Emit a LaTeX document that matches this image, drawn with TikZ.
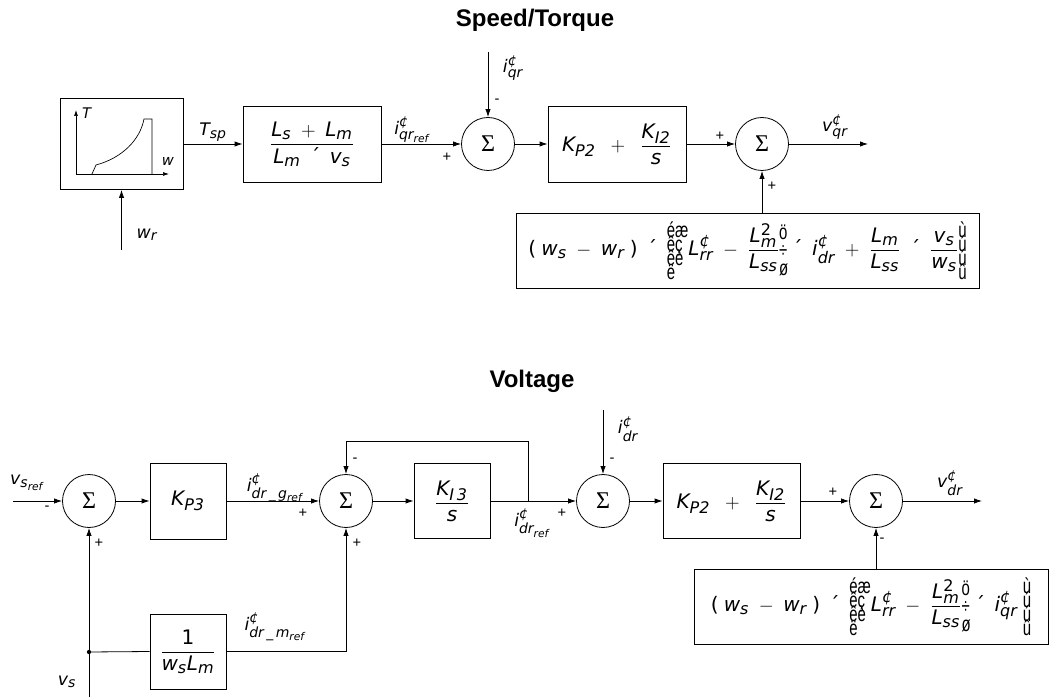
\documentclass[tikz,border=0pt]{standalone}
\usepackage{amsmath}
\usepackage{graphicx}
\usepackage{fontspec}
\setmainfont{DejaVu Sans}
\newfontfamily\arialfont{Liberation Sans}
\newfontfamily\timesfont{Liberation Serif}
\usetikzlibrary{arrows.meta}

\DeclareMathSizes{15}{15}{12}{9.5}
\DeclareMathSizes{13}{13}{10.5}{8}

% glyphs as the figure prints them
\newcommand{\cnt}{\text{\itshape ¢}}
\newcommand{\pq}[2]{\mathit{#1}^{\cnt}_{\mathit{#2}}}
\newcommand{\tms}{\mathbin{\text{´}}}
\newcommand{\gl}[1]{\hbox{\scalebox{0.7}[1]{#1}}}
\newcommand{\glyphs}[2]{\vcenter{\arialfont\fontsize{16}{#1}\selectfont\baselineskip=#1\lineskiplimit=-20pt\lineskip=0pt #2}}
\newcommand{\lbr}{\glyphs{10.5pt}{\gl{éæ}\gl{êç}\gl{êè}\gl{ë}}}
\newcommand{\mbr}{\glyphs{13.5pt}{\gl{ö}\gl{÷}\gl{ø}}}
\newcommand{\rbr}{\glyphs{10.5pt}{\gl{ù}\gl{ú}\gl{ú}\gl{û}}}

\begin{document}
\begin{tikzpicture}[x=0.75pt, y=-0.75pt, >={Latex[length=6pt,width=4pt]}, line width=0.6pt,
	blk/.style={draw, inner sep=0pt, font=\fontsize{15}{18}\selectfont},
	sum/.style={draw, circle, minimum size=39.75pt, inner sep=0pt, font=\timesfont\fontsize{18}{20}\selectfont},
	lbl/.style={inner sep=0pt, font=\fontsize{13}{15}\selectfont},
	sgn/.style={inner sep=0pt, font=\arialfont\fontsize{11}{12}\selectfont},
	ttl/.style={inner sep=0pt, font=\arialfont\fontsize{18}{20}\selectfont\bfseries}]
	
	\useasboundingbox (0,0) rectangle (1049,698);
	
	% titles
	\node[ttl] (t1) at (535,20) {Speed/Torque};
	\node[ttl] (t2) at (532,381) {Voltage};
	
	% speed/torque blocks
	\node[blk, minimum width=92.25pt, minimum height=68.25pt] (tq) at (121.5,144) {};
	\node[blk, minimum width=103.5pt, minimum height=57pt] (k1) at (312,144)
		{$\dfrac{\mathit{L_s}\;+\;\mathit{L_m}}{\mathit{L_m}\;\tms\;\mathit{v_s}}$};
	\node[sum] (s1) at (488,144) {Σ};
	\node[blk, minimum width=103.5pt, minimum height=57pt] (pi1) at (617,144)
		{$\mathit{K_{P2}}\;\;+\;\;\dfrac{\mathit{K_{I2}}}{\mathit{s}}$};
	\node[sum] (s2) at (762,144) {Σ};
	\node[blk, minimum width=347.25pt, minimum height=56.25pt] (fq) at (747.5,250.5)
		{$\text{(}\;\mathit{w_s}\;-\;\mathit{w_r}\;\text{)}\;\tms\;\lbr\pq{L}{rr}\;-\;\dfrac{\mathit{L}_{\mathit{m}}^{\text{2}}}{\mathit{L_{ss}}}\mbr\tms\;\pq{i}{dr}\;+\;\dfrac{\mathit{L_m}}{\mathit{L_{ss}}}\;\tms\;\dfrac{\mathit{v_s}}{\mathit{w_s}}\rbr$};
	
	% curve inside the torque block
	\draw[line width=0.5pt, -{Latex[length=4.5pt,width=3pt]}] (76,174) -- (76,110);
	\draw[line width=0.5pt, -{Latex[length=4.5pt,width=3pt]}] (76,174) -- (169,174);
	\draw[line width=0.5pt] (92,174) -- (96,165) .. controls (122,158) and (140,140) .. (144,119) -- (152,119) -- (152,174);
	\node[inner sep=0pt, font=\fontsize{11}{12}\selectfont] (tl) at (87,113) {\textit{T}};
	\node[inner sep=0pt, font=\fontsize{11}{12}\selectfont] (wl) at (168,161) {\textit{w}};
	
	% speed/torque free ends
	\coordinate (wr) at (121.5,250);
	\coordinate (iq) at (488,52);
	\coordinate (vq) at (868,144);
	
	% speed/torque connections
	\draw[->] (wr) -- (tq.south);
	\draw[->] (tq.east) -- (k1.west);
	\draw[->] (k1.east) -- (s1.west);
	\draw[->] (iq) -- (s1.north);
	\draw[->] (s1.east) -- (pi1.west);
	\draw[->] (pi1.east) -- (s2.west);
	\draw[->] (s2.east) -- (vq);
	\draw[->] (s2 |- fq.north) -- (s2.south);
	
	% speed/torque labels
	\node[lbl] (lwr) at (147,235) {$\mathit{w_r}$};
	\node[lbl] (ltsp) at (213,132) {$\mathit{T_{sp}}$};
	\node[lbl] (liqref) at (412,130) {$\mathit{i}^{\cnt}_{\mathit{qr}_{\mathit{ref}}}$};
	\node[lbl] (liq) at (513,68) {$\pq{i}{qr}$};
	\node[lbl] (lvq) at (835,127) {$\pq{v}{qr}$};
	\node[sgn] (p1) at (447,157) {+};
	\node[sgn] (m1) at (497,101) {-};
	\node[sgn] (p2) at (720,136) {+};
	\node[sgn] (p3) at (772,186) {+};
	
	% voltage blocks
	\node[sum] (s3) at (89,501) {Σ};
	\node[blk, minimum width=57pt, minimum height=57pt] (kp3) at (188,501) {$\mathit{K_{P3}}$};
	\node[sum] (s4) at (346,501) {Σ};
	\node[blk, minimum width=57pt, minimum height=56.5pt] (ki3) at (452,501)
		{$\dfrac{\mathit{K_{I\,3}}}{\mathit{s}}$};
	\node[sum] (s5) at (603,501) {Σ};
	\node[blk, minimum width=102.75pt, minimum height=56.25pt] (pi2) at (731.5,501)
		{$\mathit{K_{P2}}\;\;+\;\;\dfrac{\mathit{K_{I2}}}{\mathit{s}}$};
	\node[sum] (s6) at (876,501) {Σ};
	\node[blk, minimum width=57pt, minimum height=56.25pt] (gm) at (188,651.5)
		{$\dfrac{\text{1}}{\mathit{w_s L_m}}$};
	\node[blk, minimum width=265.5pt, minimum height=56.25pt] (fd) at (871,606.5)
		{$\text{(}\;\mathit{w_s}\;-\;\mathit{w_r}\;\text{)}\;\tms\;\lbr\pq{L}{rr}\;-\;\dfrac{\mathit{L}_{\mathit{m}}^{\text{2}}}{\mathit{L_{ss}}}\mbr\tms\;\pq{i}{qr}\;\rbr$};
	
	% voltage free ends
	\coordinate (vin) at (13,501);
	\coordinate (vsb) at (89,697);
	\coordinate (jn) at (89,652);
	\coordinate (br) at (528,501);
	\coordinate (fbt) at (528,441);
	\coordinate (id) at (603,410);
	\coordinate (vd) at (982,501);
	
	% voltage connections
	\draw[->] (vin) -- (s3.west);
	\draw[->] (vsb) -- (s3.south);
	\fill (jn) circle[radius=1.6pt];
	\draw (jn) -- (gm.west);
	\draw[->] (s3.east) -- (kp3.west);
	\draw[->] (kp3.east) -- (s4.west);
	\draw[->] (gm.east) -| (s4.south);
	\draw[->] (s4.east) -- (ki3.west);
	\draw[->] (ki3.east) -- (s5.west);
	\draw[->] (br) -- (fbt) -| (s4.north);
	\draw[->] (id) -- (s5.north);
	\draw[->] (s5.east) -- (pi2.west);
	\draw[->] (pi2.east) -- (s6.west);
	\draw[->] (s6.east) -- (vd);
	\draw[->] (s6 |- fd.north) -- (s6.south);
	
	% voltage labels
	\node[lbl] (lvsref) at (27,483) {$\mathit{v_{s_{ref}}}$};
	\node[lbl] (lvs) at (67,682) {$\mathit{v_s}$};
	\node[lbl] (lig) at (275,488) {$\mathit{i}^{\cnt}_{\mathit{dr}\,\_\,\mathit{g}_{\mathit{ref}}}$};
	\node[lbl] (lim) at (275,627) {$\mathit{i}^{\cnt}_{\mathit{dr}\,\_\,\mathit{m}_{\mathit{ref}}}$};
	\node[lbl] (lidref) at (532,523) {$\mathit{i}^{\cnt}_{\mathit{dr}_{\mathit{ref}}}$};
	\node[lbl] (lid) at (628,429) {$\pq{i}{dr}$};
	\node[lbl] (lvd) at (950,483) {$\pq{v}{dr}$};
	\node[sgn] (m2) at (47,508) {-};
	\node[sgn] (p4) at (99,543) {+};
	\node[sgn] (p5) at (303,513) {+};
	\node[sgn] (m3) at (355,460) {-};
	\node[sgn] (p6) at (357,543) {+};
	\node[sgn] (p7) at (562,513) {+};
	\node[sgn] (m4) at (612,460) {-};
	\node[sgn] (p8) at (833,492) {+};
	\node[sgn] (m5) at (882,540) {-};
	
\end{tikzpicture}
\end{document}
